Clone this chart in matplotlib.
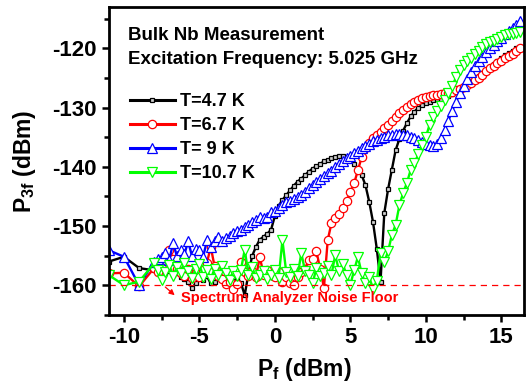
import matplotlib
matplotlib.use('Agg')
import matplotlib.pyplot as plt

plt.rcParams['font.family'] = ['Liberation Sans', 'DejaVu Sans']
plt.rcParams['font.weight'] = 'bold'
plt.rcParams['axes.unicode_minus'] = False
plt.rcParams['mathtext.fontset'] = 'custom'
plt.rcParams['mathtext.rm'] = 'Liberation Sans:bold'
plt.rcParams['mathtext.it'] = 'Liberation Sans:bold'
plt.rcParams['mathtext.bf'] = 'Liberation Sans:bold'

# Pump power (dBm), shared by all four sweeps
p_f = [-11, -10, -9,
       -8, -7.75, -7.5, -7.25, -7, -6.75, -6.5, -6.25,
       -6, -5.75, -5.5, -5.25, -5, -4.75, -4.5, -4.25,
       -4, -3.75, -3.5, -3.25, -3, -2.75, -2.5, -2.25,
       -2, -1.75, -1.5, -1.25, -1, -0.75, -0.5, -0.25,
       0, 0.25, 0.5, 0.75, 1, 1.25, 1.5, 1.75,
       2, 2.25, 2.5, 2.75, 3, 3.25, 3.5, 3.75,
       4, 4.25, 4.5, 4.75, 5, 5.25, 5.5, 5.75,
       6, 6.25, 6.5, 6.75, 7, 7.25, 7.5, 7.75,
       8, 8.25, 8.5, 8.75, 9, 9.25, 9.5, 9.75,
       10, 10.25, 10.5, 10.75, 11, 11.25, 11.5, 11.75,
       12, 12.25, 12.5, 12.75, 13, 13.25, 13.5, 13.75,
       14, 14.25, 14.5, 14.75, 15, 15.25, 15.5, 15.75,
       16, 16.25]

# P3f (dBm) for each temperature
t47 = [-156.0, -155.2, -157.1,
       -157.5, -157.8, -157.2, -158.0, -157.6, -158.3, -157.9, -158.6,
       -158.9, -159.4, -160.5, -159.7, -158.8, -159.2, -158.5, -159.7,
       -159.4, -158.7, -159.0, -158.2, -158.6, -159.3, -158.9, -159.6,
       -161.7, -158.0, -155.0, -153.5, -152.3, -151.8, -151.3, -150.6,
       -148.3, -146.6, -145.6, -144.8, -144.0, -143.2, -142.5, -142.0,
       -141.4, -140.8, -140.3, -139.9, -139.5, -139.1, -138.8, -138.5,
       -138.3, -138.2, -138.2, -138.4, -138.8, -139.5, -140.3, -141.4,
       -143.1, -145.9, -149.3, -153.8, -159.4, -147.8, -143.8, -140.5,
       -137.2, -135.3, -133.9, -132.6, -131.5, -130.7, -130.0, -129.6,
       -129.2, -129.0, -128.8, -128.6, -128.5, -128.3, -128.0, -127.7,
       -127.3, -126.9, -126.5, -126.1, -125.6, -125.1, -124.6, -124.1,
       -123.7, -123.2, -122.7, -122.2, -121.7, -121.2, -120.8, -120.4,
       -120.0, -119.7]

t67 = [-158.0, -157.9, -160.2,
       -157.1, -157.8, -156.5, -155.8, -154.0, -155.5, -157.2, -158.0,
       -158.5, -157.3, -158.8, -157.9, -158.6, -157.5, -156.2, -153.5,
       -156.8, -158.4, -158.9, -159.8, -159.5, -160.6, -159.8, -156.0,
       -157.8, -158.5, -157.6, -158.6, -155.2, -158.2, -157.5, -158.3,
       -158.6, -157.7, -159.4, -158.6, -159.7, -160.0, -158.6, -157.7,
       -157.2, -155.8, -155.5, -154.3, -157.2, -160.4, -152.4, -149.5,
       -148.6, -148.0, -147.0, -145.8, -144.3, -142.8, -140.6, -138.4,
       -136.9, -135.9, -135.1, -134.6, -134.1, -133.5, -132.9, -132.2,
       -131.6, -131.0, -130.4, -129.9, -129.4, -129.0, -128.7, -128.4,
       -128.2, -128.0, -127.9, -127.8, -127.7, -127.6, -127.5, -127.3,
       -127.1, -126.9, -126.6, -126.2, -125.8, -125.4, -125.0, -124.5,
       -123.9, -123.4, -122.9, -122.5, -122.1, -121.7, -121.3, -120.9,
       -120.4, -119.9]

t9 = [-154.1, -155.2, -160.0,
      -156.0, -155.5, -155.2, -154.6, -155.8, -152.9, -155.0, -154.0,
      -154.8, -152.6, -155.0, -153.8, -154.0, -155.2, -152.4, -153.5,
      -152.6, -151.8, -152.5, -152.1, -151.7, -151.2, -150.8, -150.6,
      -150.1, -149.8, -149.3, -149.0, -148.4, -148.6, -148.4, -147.6,
      -147.5, -146.9, -146.4, -146.0, -145.8, -145.5, -145.1, -144.7,
      -144.2, -143.6, -143.1, -142.5, -142.0, -141.6, -141.1, -140.7,
      -140.1, -139.6, -139.0, -138.5, -138.1, -137.7, -137.3, -136.9,
      -136.5, -136.1, -135.7, -135.4, -135.1, -134.9, -134.7, -134.6,
      -134.5, -134.5, -134.6, -134.7, -134.9, -135.2, -135.5, -135.8,
      -136.2, -136.4, -136.5, -136.2, -135.2, -133.8, -132.2, -130.5,
      -129.0, -127.6, -126.3, -125.1, -124.0, -123.0, -122.1, -121.4,
      -120.7, -120.0, -119.4, -118.8, -118.2, -117.6, -117.1, -116.6,
      -116.0, -115.4]

t107 = [-158.3, -160.0, -159.4,
        -156.3, -157.5, -159.2, -157.8, -156.6, -158.4, -157.0, -158.0,
        -156.2, -157.6, -158.8, -157.3, -156.5, -158.6, -157.4, -159.0,
        -157.2, -158.3, -156.8, -158.0, -159.1, -157.6, -158.4, -157.4,
        -154.0, -158.2, -157.0, -158.8, -158.3, -157.6, -158.9, -158.2,
        -157.5, -158.7, -152.4, -157.8, -158.6, -157.2, -158.4, -154.6,
        -157.6, -158.3, -159.7, -157.1, -158.5, -157.9, -156.8, -158.2,
        -154.9, -157.6, -156.4, -158.3, -159.9, -157.5, -155.2, -158.0,
        -159.7, -158.6, -160.6, -159.3, -154.6, -156.1, -154.3, -151.5,
        -149.8, -146.5, -144.4, -142.7, -140.5, -139.4, -137.9, -136.4,
        -135.0, -132.9, -131.6, -130.5, -129.7, -128.8, -127.6, -126.4,
        -124.9, -123.6, -122.8, -122.2, -121.6, -121.0, -120.4, -119.8,
        -119.3, -119.0, -118.7, -118.4, -118.1, -117.8, -117.6, -117.5,
        -117.4, -117.2]

labels = ['T=4.7 K', 'T=6.7 K', 'T= 9 K', 'T=10.7 K']
noise_floor = -160

fig = plt.figure(figsize=(5.26, 3.83), dpi=100)
ax = fig.add_axes([0.207, 0.178, 0.789, 0.804])

# the four sweeps, later ones drawn on top
ax.plot(p_f, t47, color='black', lw=1.7, marker='s', ms=3.2, mfc='#d0d0d0',
        mec='black', mew=0.9, label=labels[0])
ax.plot(p_f, t67, color='red', lw=1.7, marker='o', ms=6, mfc='white',
        mec='red', mew=0.9, label=labels[1])
ax.plot(p_f, t9, color='blue', lw=1.7, marker='^', ms=6.5, mfc='white',
        mec='blue', mew=0.9, label=labels[2])
ax.plot(p_f, t107, color='#00ff00', lw=1.7, marker='v', ms=6.5, mfc='white',
        mec='#00ff00', mew=0.9, label=labels[3])

# noise floor line and its note
ax.axhline(noise_floor, color='red', lw=0.9, ls=(0, (5, 4)))
ax.annotate('', xy=(-6.5, -162.0), xytext=(-7.4, -160.0),
            arrowprops=dict(arrowstyle='-|>', color='red', lw=0.9,
                            mutation_scale=8))
ax.text(-6.25, -162.2, 'Spectrum Analyzer Noise Floor', color='red',
        fontsize=10.5, fontweight='bold', va='center', ha='left')

ax.text(0.046, 0.906, 'Bulk Nb Measurement', transform=ax.transAxes,
        fontsize=13.5, fontweight='bold', va='center')
ax.text(0.046, 0.828, 'Excitation Frequency: 5.025 GHz', transform=ax.transAxes,
        fontsize=13.5, fontweight='bold', va='center')

leg = ax.legend(loc='upper left', bbox_to_anchor=(0.02, 0.76), frameon=False,
                fontsize=13, handlelength=2.5, handletextpad=0.3,
                labelspacing=0.38, borderpad=0.2)
for line in leg.get_lines():
    line.set_linewidth(2.2)

ax.set_xlim(-11, 16.5)
ax.set_ylim(-165, -113)
ax.set_xticks([-10, -5, 0, 5, 10, 15])
ax.set_xticks([-7.5, -2.5, 2.5, 7.5, 12.5], minor=True)
ax.set_yticks([-160, -150, -140, -130, -120])
ax.set_yticks([-165, -155, -145, -135, -125, -115], minor=True)
ax.tick_params(which='both', direction='out', width=1.8, labelsize=16)
ax.tick_params(which='major', length=5)
ax.tick_params(which='minor', length=3.5)
for s in ax.spines.values():
    s.set_linewidth(2.0)

ax.set_xlabel('$P_{f}$ (dBm)', fontsize=16.5, fontweight='bold')
ax.xaxis.set_label_coords(0.47, -0.135)
ax.set_ylabel('$P_{3f}$ (dBm)', fontsize=16.5, fontweight='bold')
ax.yaxis.set_label_coords(-0.17, 0.5)

fig.savefig('out.png', dpi=100)
